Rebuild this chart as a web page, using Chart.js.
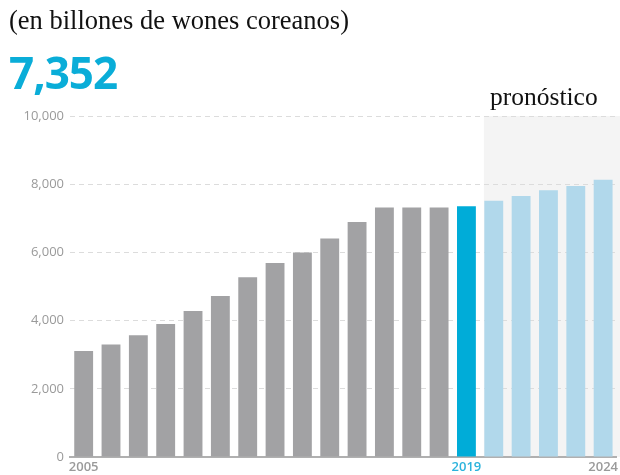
<!DOCTYPE html>
<html>
<head>
<meta charset="utf-8">
<script src="https://cdn.jsdelivr.net/npm/chart.js@4/dist/chart.umd.min.js"></script>
<style>
  body { margin: 0; background: #fff; }
  .wrap { position: relative; width: 620px; height: 475px; overflow: hidden; }
  #chart { position: absolute; left: 0; top: 0; }
  .unit { position: absolute; left: 9px; top: 5px; font-family: "Liberation Serif", serif; font-size: 26.5px; color: #111; }
  .big { position: absolute; left: 9px; top: 42px; font-family: "Open Sans", sans-serif; font-weight: 700; font-size: 44px; color: #0aadd8; letter-spacing: -1px; }
  .fc { position: absolute; left: 490px; top: 82px; font-family: "Liberation Serif", serif; font-size: 25.5px; color: #111; }
</style>
</head>
<body>
<div class="wrap">
  <canvas id="chart" width="620" height="475"></canvas>
  <div class="unit">(en billones de wones coreanos)</div>
  <div class="big">7,352</div>
  <div class="fc">pronóstico</div>
</div>
<script>
// years and market size (billion KRW); 2020 onward is the forecast
const years = ['2005','2006','2007','2008','2009','2010','2011','2012','2013','2014',
               '2015','2016','2017','2018','2019','2020','2021','2022','2023','2024'];
const values = [3110, 3300, 3570, 3900, 4280, 4720, 5270, 5690, 6000, 6410,
                6890, 7320, 7320, 7320, 7352, 7516, 7656, 7820, 7950, 8130];
const shownYears = ['2005', '2019', '2024'];
const currentYear = '2019';
const firstForecast = '2020';
const yTicks = [0, 2000, 4000, 6000, 8000, 10000];

const curIdx = years.indexOf(currentYear);
const fcIdx = years.indexOf(firstForecast);

const barColors = years.map((y, i) => i < curIdx ? '#a2a2a4' : (i === curIdx ? '#00acd8' : '#b1d8eb'));

// light grey panel behind the forecast years
const forecastBand = {
  id: 'forecastBand',
  beforeDraw(chart) {
    const meta = chart.getDatasetMeta(0);
    const bar = meta.data[fcIdx];
    if (!bar) return;
    const area = chart.chartArea;
    const x0 = bar.x - bar.width / 2 - 0.5;
    const ctx = chart.ctx;
    ctx.save();
    ctx.fillStyle = '#f4f4f4';
    ctx.fillRect(x0, area.top, chart.width - x0, area.bottom - area.top);
    ctx.restore();
  }
};

new Chart(document.getElementById('chart'), {
  type: 'bar',
  data: {
    labels: years,
    datasets: [{
      data: values,
      backgroundColor: barColors,
      borderWidth: 0,
      categoryPercentage: 1,
      barPercentage: 0.69
    }]
  },
  options: {
    responsive: false,
    animation: false,
    layout: { padding: { top: 116, right: 0, bottom: 0, left: 0 } },
    plugins: {
      legend: { display: false },
      tooltip: { enabled: false }
    },
    scales: {
      x: {
        grid: { display: false, drawTicks: false },
        border: { display: true, color: '#b0b0b0', width: 2 },
        afterFit(scale) { scale.height = 18; },
        ticks: {
          autoSkip: false,
          maxRotation: 0,
          padding: 2,
          font: { family: 'Open Sans', size: 13, weight: '600' },
          color: ctx => ctx.index === curIdx ? '#2bb3dc' : '#9a9a9a',
          callback(val, i) {
            const y = years[i];
            return shownYears.includes(y) ? y : '';
          }
        }
      },
      y: {
        min: 0,
        max: 10000,
        afterFit(scale) { scale.width = 70; },
        afterBuildTicks(scale) { scale.ticks = yTicks.map(v => ({ value: v })); },
        grid: {
          color: ctx => ctx.tick && ctx.tick.value === 0 ? 'rgba(0,0,0,0)' : '#dcdcdc',
          lineWidth: 1,
          drawTicks: false
        },
        border: { display: false, dash: [5, 4] },
        ticks: {
          padding: 6,
          font: { family: 'Open Sans', size: 13 },
          color: '#9a9a9a',
          callback: v => v.toLocaleString('en-US')
        }
      }
    }
  },
  plugins: [forecastBand]
});
</script>
</body>
</html>
